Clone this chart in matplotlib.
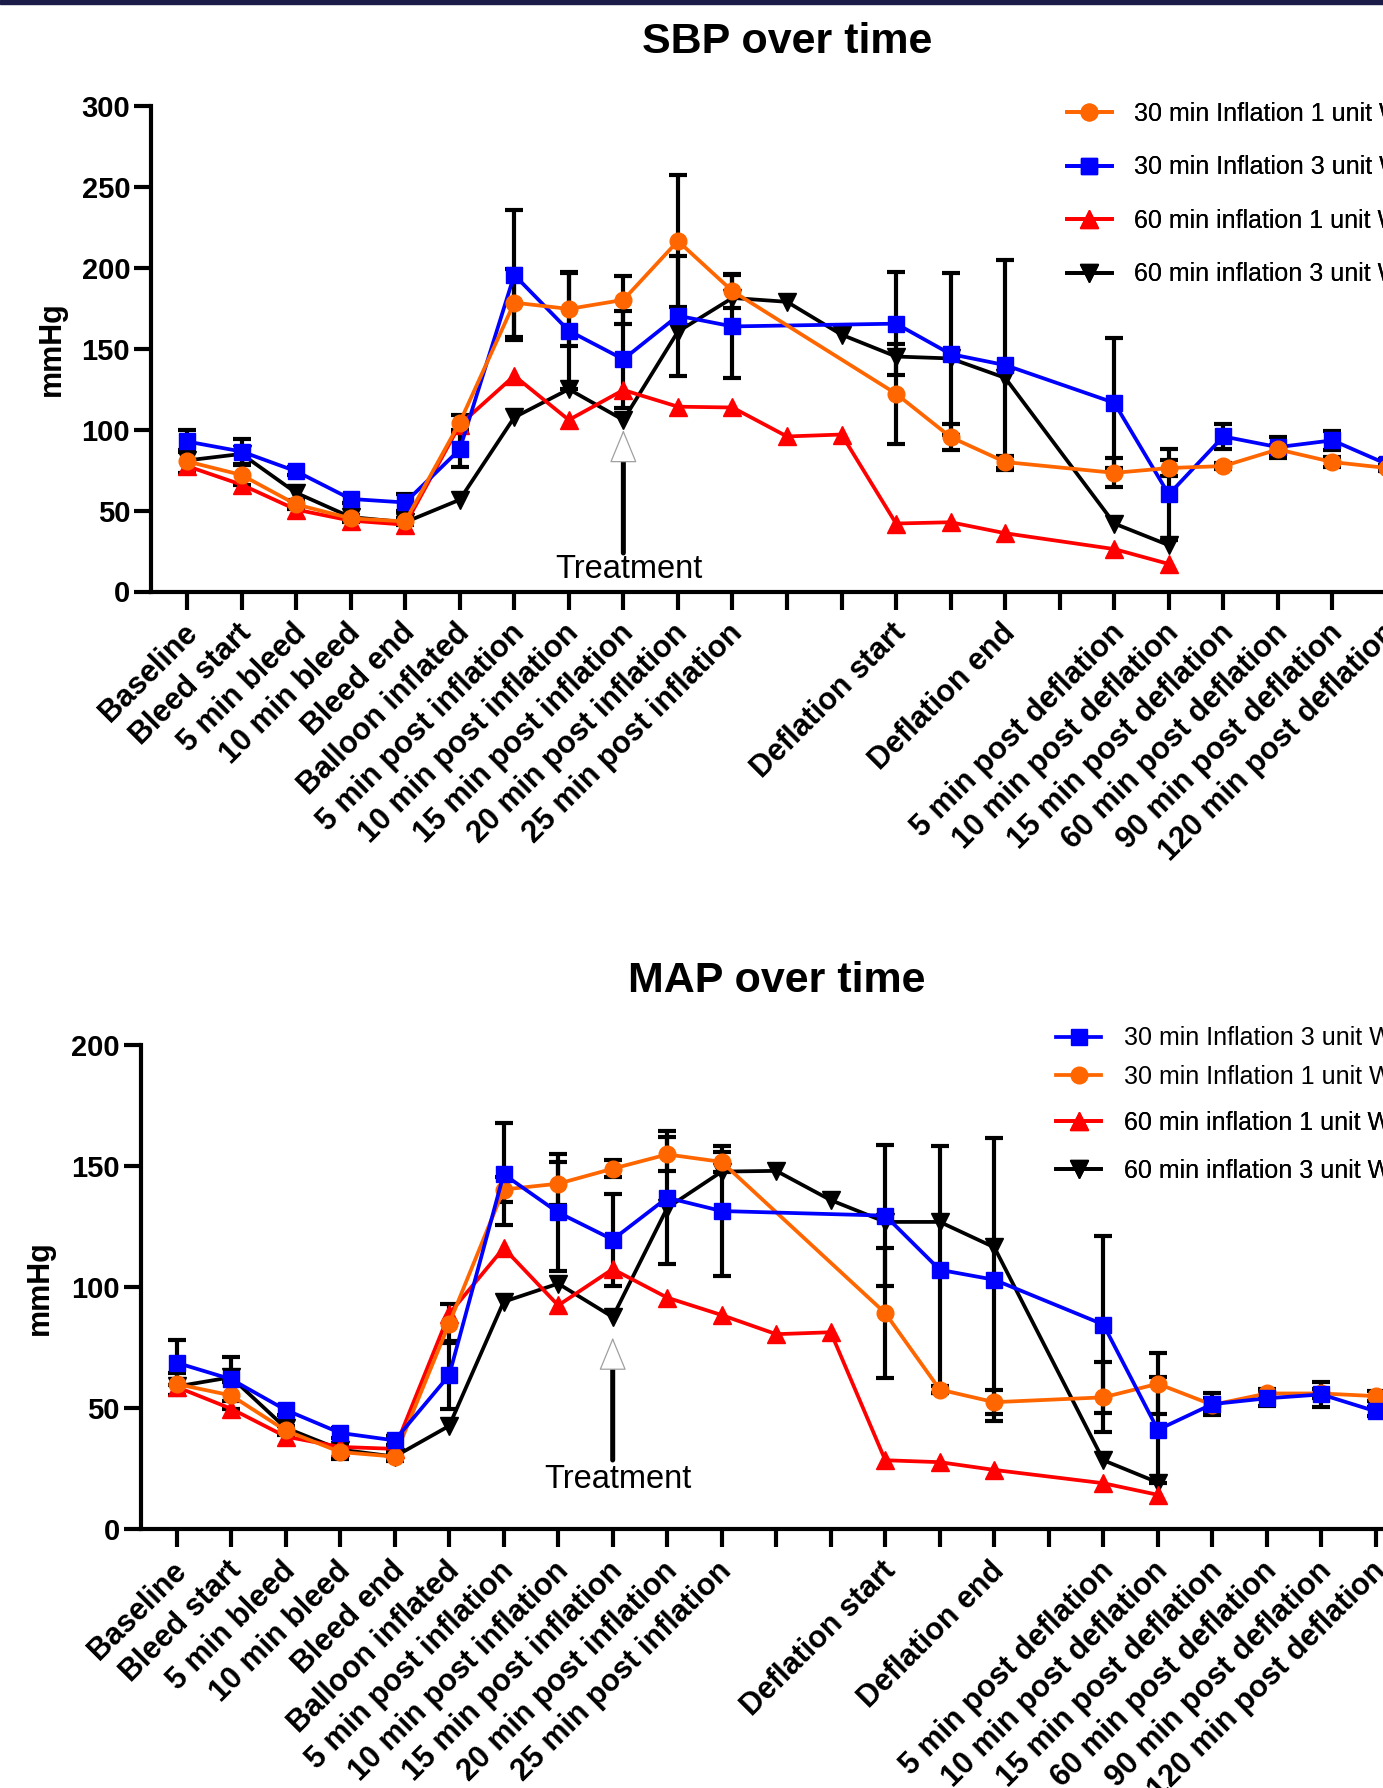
import numpy as np
import matplotlib
matplotlib.use('Agg')
import matplotlib.pyplot as plt
from matplotlib.lines import Line2D
from matplotlib.patches import Rectangle
from matplotlib.transforms import ScaledTranslation

plt.rcParams['font.family'] = ['Liberation Sans', 'DejaVu Sans']

N = None
categories = ["Baseline", "Bleed start", "5 min bleed", "10 min bleed", "Bleed end",
              "Balloon inflated", "5 min post inflation", "10 min post inflation",
              "15 min post inflation", "20 min post inflation", "25 min post inflation",
              "", "", "Deflation start", "", "Deflation end", "",
              "5 min post deflation", "10 min post deflation", "15 min post deflation",
              "60 min post deflation", "90 min post deflation", "120 min post deflation"]

lbl_30_1 = "30 min Inflation 1 unit WB"
lbl_30_3 = "30 min Inflation 3 unit WB"
lbl_60_1 = "60 min inflation 1 unit WB"
lbl_60_3 = "60 min inflation 3 unit WB"

# ---- SBP ----
sbp_30_1 = [80.4, 72, 53.8, 45.2, 43.3, 104.4, 178.5, 174.6, 180.2, 216.6, 185.6, N, N,
            122.2, 95.4, 80, N, 73.3, 76.3, 77.5, 87.8, 80, 76.3]
sbp_30_1_err = [7, 6, 3, 2, 2, 4.5, 21, 22.7, 15, 41, 10.4, N, N,
                31, 8, 3.6, N, 9, 4.7, 2, 3, 3, 2]
sbp_30_3 = [92.7, 86.5, 74.3, 57.2, 55, 87.8, 195.6, 161.1, 143.5, 170.4, 163.8, N, N,
            165.5, 146.7, 139.9, N, 116.6, 60, 95.8, 89.2, 93.4, 78.7]
sbp_30_3_err = [6.8, 7.5, 2.5, 2.5, 5.4, 11, 40, 36, 30, 37, 32, N, N,
                32, 50, 65, N, 40, 28, 7.5, 6.5, 6, 3]
sbp_60_1 = [77.5, 66, 50.6, 43.8, 41.3, 103, 133.3, 106, 124.5, 114.2, 113.7, 95.8, 97,
            42, 42.8, 36, N, 26.2, 17, N, N, N, N]
sbp_60_3 = [81, 85, 61, 46, 42.8, 56.7, 107.6, 125, 106, 160.6, 181.4, 179, 158.7,
            145.2, 144, 132, N, 42, 28.6, N, N, N, N]

# ---- MAP ----
map_30_3 = [68.8, 62, 49.3, 39.8, 36.7, 63.6, 146.7, 130.9, 119.7, 137, 131.5, N, N,
            129.6, 107.2, 103.1, N, 84.6, 41.1, 51.7, 54.1, 55.7, 48.7]
map_30_3_err = [9.2, 9, 2, 2, 2, 14, 21, 24, 19, 27.5, 27, N, N,
                29, 51, 58.5, N, 36.5, 22, 4.5, 3, 5, 2]
map_30_1 = [60, 55.3, 40.8, 31.9, 30, 85, 140.4, 142.8, 149, 154.9, 151.8, N, N,
            89.3, 57.7, 52.5, N, 54.5, 60.1, 51.4, 56.1, 56.1, 55]
map_30_1_err = [4.5, 5.5, 2, 3, 2, 8, 5, 9, 3.6, 7, 4, N, N,
                27, 1.5, 5, N, 14.5, 12.6, 3, 2, 2, 2]
map_60_1 = [58.8, 49.8, 38.3, 34, 33.2, 89, 116.2, 92.5, 107.5, 95.7, 88.5, 80.6, 81.4,
            28.5, 27.7, 24.5, N, 19, 14.2, N, N, N, N]
map_60_3 = [59, 62.8, 41.9, 32.9, 30, 42.7, 94, 101.5, 87.7, 132.8, 147.8, 148.1, 136,
            127, 127, 116.5, N, 28.5, 19.3, N, N, N, N]

C_OR, C_BL, C_RD, C_BK = '#FF6600', '#0000FF', '#FF0000', '#000000'
styles = {
    lbl_30_1: dict(color=C_OR, marker='o', ms=12),
    lbl_30_3: dict(color=C_BL, marker='s', ms=12),
    lbl_60_1: dict(color=C_RD, marker='^', ms=13),
    lbl_60_3: dict(color=C_BK, marker='v', ms=13),
}
LW = 2.7

W, H = 1383, 1788
fig = plt.figure(figsize=(W / 100, H / 100), dpi=100)
fig.patches.append(Rectangle((0, 1 - 3.5 / H), 1, 3.5 / H, transform=fig.transFigure,
                             color='#1c1c48', zorder=10))


def series(vals, errs=None):
    x = np.array([i for i, v in enumerate(vals) if v is not None], dtype=float)
    y = np.array([v for v in vals if v is not None], dtype=float)
    e = None
    if errs is not None:
        e = np.array([errs[i] for i, v in enumerate(vals) if v is not None], dtype=float)
    return x, y, e


def draw_panel(ax, draw_list, ymax, yticks, title, legend_groups, ylabel_x):
    z = 3
    for lbl, vals, errs in draw_list:
        x, y, e = series(vals, errs)
        if e is not None:
            ax.errorbar(x, y, yerr=e, fmt='none', ecolor='black', elinewidth=3,
                        capsize=6.8, capthick=3, zorder=2)
        st = styles[lbl]
        ax.plot(x, y, color=st['color'], marker=st['marker'], ms=st['ms'],
                mec=st['color'], lw=LW, zorder=z, label=lbl)
        z += 1
    ax.set_xlim(-0.66, 22.66)
    ax.set_ylim(0, ymax)
    for s in ['top', 'right']:
        ax.spines[s].set_visible(False)
    for s in ['left', 'bottom']:
        ax.spines[s].set_linewidth(3)
    ax.tick_params(axis='y', length=12, width=3, pad=3)
    ax.tick_params(axis='x', length=12.7, width=3, pad=14)
    ax.set_yticks(yticks)
    ax.set_yticklabels([str(t) for t in yticks], fontsize=21, fontweight='bold')
    ax.set_xticks(range(len(categories)))
    ax.set_xticklabels(categories, rotation=45, ha='right', va='center',
                       rotation_mode='anchor', fontsize=22, fontweight='bold')
    shift = ScaledTranslation(4 / 72, 0, fig.dpi_scale_trans)
    for t in ax.get_xticklabels():
        t.set_transform(t.get_transform() + shift)
    ax.set_title(title, fontsize=31, fontweight='bold', pad=38.5)
    ax.set_ylabel('mmHg', fontsize=22, fontweight='bold')
    ax.yaxis.set_label_coords(ylabel_x, 0.5)
    for labels, (ax_x, ax_y), spacing in legend_groups:
        handles = [Line2D([], [], color=styles[l]['color'], marker=styles[l]['marker'],
                          ms=styles[l]['ms'], lw=LW) for l in labels]
        leg = ax.legend(handles, labels, loc='upper left',
                        bbox_to_anchor=(ax_x / W, 1 - ax_y / H),
                        bbox_transform=fig.transFigure, frameon=False, fontsize=18,
                        handlelength=1.8, handletextpad=0.9, labelspacing=spacing,
                        borderpad=0, borderaxespad=0)
        ax.add_artist(leg)


def treatment(ax, x, tip, base, shaft_end, text_y):
    ax.annotate('', xy=(x, base), xytext=(x, shaft_end),
                arrowprops=dict(arrowstyle='-', lw=3.6, color='black',
                                shrinkA=0, shrinkB=0), zorder=8)
    ax.annotate('', xy=(x, tip), xytext=(x, base),
                arrowprops=dict(arrowstyle='-|>,head_length=21.6,head_width=8.9',
                                mutation_scale=1, fc='white', ec='#a0a0a0', lw=0.9,
                                shrinkA=0, shrinkB=0), zorder=9)
    ax.text(x + 0.1, text_y, 'Treatment', ha='center', va='top', fontsize=23.5, zorder=9)


ax1 = fig.add_axes([151 / W, 1 - 591.5 / H, (1423 - 151) / W, (591.5 - 106) / H])
draw_panel(ax1,
           [(lbl_60_3, sbp_60_3, None), (lbl_60_1, sbp_60_1, None),
            (lbl_30_3, sbp_30_3, sbp_30_3_err), (lbl_30_1, sbp_30_1, sbp_30_1_err)],
           300, [0, 50, 100, 150, 200, 250, 300], 'SBP over time',
           [([lbl_30_1, lbl_30_3, lbl_60_1, lbl_60_3], (1066.7, 101.9), 1.18)],
           (67 - 151) / 1272)
treatment(ax1, 8, 99.8, 81.3, 23.8, 23.0)

ax2 = fig.add_axes([140.6 / W, 1 - 1529.2 / H, (1411.9 - 140.6) / W, (1529.2 - 1045.3) / H])
draw_panel(ax2,
           [(lbl_60_3, map_60_3, None), (lbl_60_1, map_60_1, None),
            (lbl_30_1, map_30_1, map_30_1_err), (lbl_30_3, map_30_3, map_30_3_err)],
           200, [0, 50, 100, 150, 200], 'MAP over time',
           [([lbl_30_3, lbl_30_1], (1056, 1026.3), 0.58),
            ([lbl_60_1, lbl_60_3], (1056, 1111), 0.95)],
           (55 - 140.6) / 1271.3)
treatment(ax2, 8, 79.2, 67, 28.6, 26.8)

fig.savefig('out.png', dpi=100)
